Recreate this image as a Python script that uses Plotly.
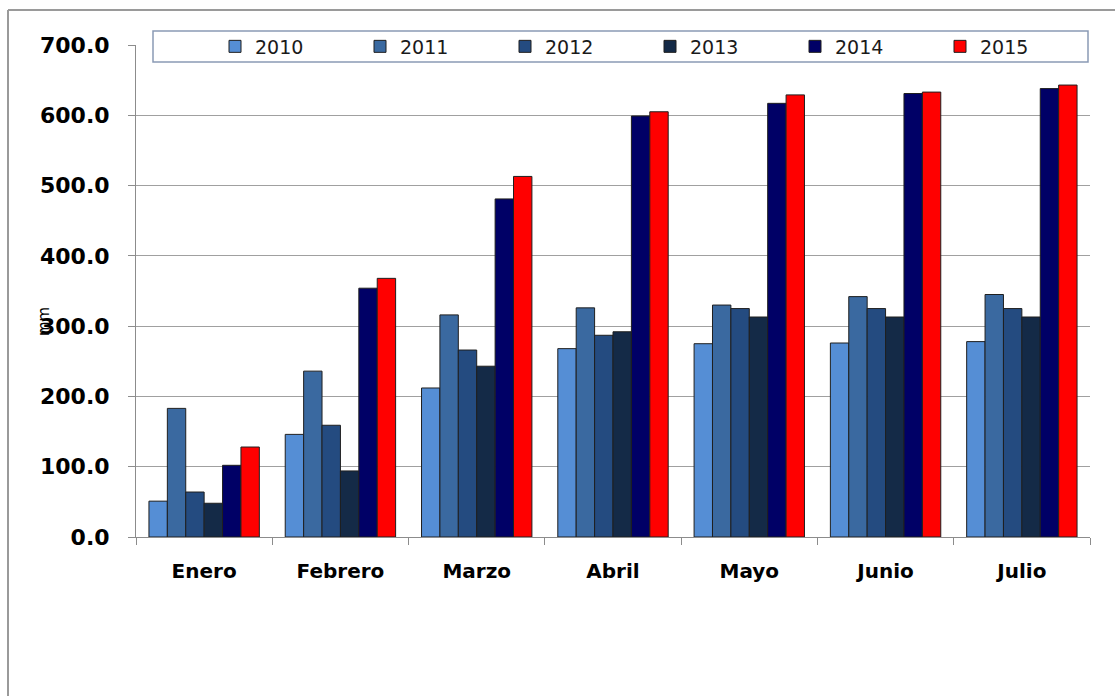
import plotly.graph_objects as go

months = ["Enero", "Febrero", "Marzo", "Abril", "Mayo", "Junio", "Julio"]
years = ["2010", "2011", "2012", "2013", "2014", "2015"]
v2010 = [51, 146, 212, 268, 275, 276, 278]
v2011 = [183, 236, 316, 326, 330, 342, 345]
v2012 = [64, 159, 266, 287, 325, 325, 325]
v2013 = [48, 94, 243, 292, 313, 313, 313]
v2014 = [102, 354, 481, 599, 617, 631, 638]
v2015 = [128, 368, 513, 605, 629, 633, 643]
series = [v2010, v2011, v2012, v2013, v2014, v2015]
colors = ["#558ED5", "#3A69A0", "#244B80", "#142A47", "#000066", "#FF0000"]
yticks = [0, 100, 200, 300, 400, 500, 600, 700]

W, H = 1115, 696
L, R, T, B = 136, 1090, 45, 537

def px(p):
    return (p - L) / (R - L)

def py(p):
    return (B - p) / (B - T)

fig = go.Figure()
for y, vals, c in zip(years, series, colors):
    fig.add_trace(go.Bar(x=months, y=vals, name=y, marker_color=c,
                         marker_line_color="#1f1f1f", marker_line_width=1))

fig.update_layout(
    width=W, height=H,
    margin=dict(l=L, r=W - R, t=T, b=H - B, autoexpand=False),
    paper_bgcolor="white", plot_bgcolor="white",
    barmode="group", bargap=0.19, bargroupgap=0,
    font=dict(family="DejaVu Sans", color="#000000"),
    showlegend=True,
    legend=dict(orientation="h", x=px(215), xanchor="left", y=py(46.5), yanchor="middle",
                entrywidth=100, entrywidthmode="pixels", itemwidth=30,
                font=dict(size=19, color="#1a1a1a", family="DejaVu Sans"),
                bgcolor="rgba(0,0,0,0)", borderwidth=0, traceorder="normal"),
    shapes=[
        # outer frame
        dict(type="line", xref="paper", yref="paper", x0=px(8), x1=px(8), y0=py(10), y1=py(700),
             line=dict(color="#9a9a9a", width=2), layer="below"),
        dict(type="line", xref="paper", yref="paper", x0=px(8), x1=px(1120), y0=py(10), y1=py(10),
             line=dict(color="#9a9a9a", width=2), layer="below"),
        # legend box
        dict(type="rect", xref="paper", yref="paper", x0=px(153), x1=px(1088), y0=py(62), y1=py(31),
             line=dict(color="#8a9ab5", width=1.5), fillcolor="white", layer="above"),
    ],
    annotations=[
        dict(text="mm", xref="paper", yref="paper", x=px(44), y=py(322), textangle=-90,
             showarrow=False, font=dict(size=15, family="DejaVu Sans", color="#000000"),
             xanchor="center", yanchor="middle"),
    ],
)

fig.update_yaxes(range=[0, 700], tickvals=yticks,
                 ticktext=[f"<b>{v:.1f}</b>" for v in yticks],
                 showgrid=True, gridcolor="#a0a0a0", gridwidth=1,
                 showline=True, linecolor="#8c8c8c", linewidth=1,
                 ticks="outside", ticklen=7, tickcolor="#8c8c8c",
                 ticklabelstandoff=14, zeroline=False,
                 tickfont=dict(size=22, family="DejaVu Sans", color="#000000"))
fig.update_xaxes(showline=True, linecolor="#8c8c8c", linewidth=1,
                 ticks="outside", ticklen=7, tickcolor="#8c8c8c", tickson="boundaries",
                 ticktext=[f"<b>{m}</b>" for m in months], tickvals=months,
                 ticklabelstandoff=16,
                 tickfont=dict(size=20, family="DejaVu Sans", color="#000000"))

fig.write_html("out.html")
